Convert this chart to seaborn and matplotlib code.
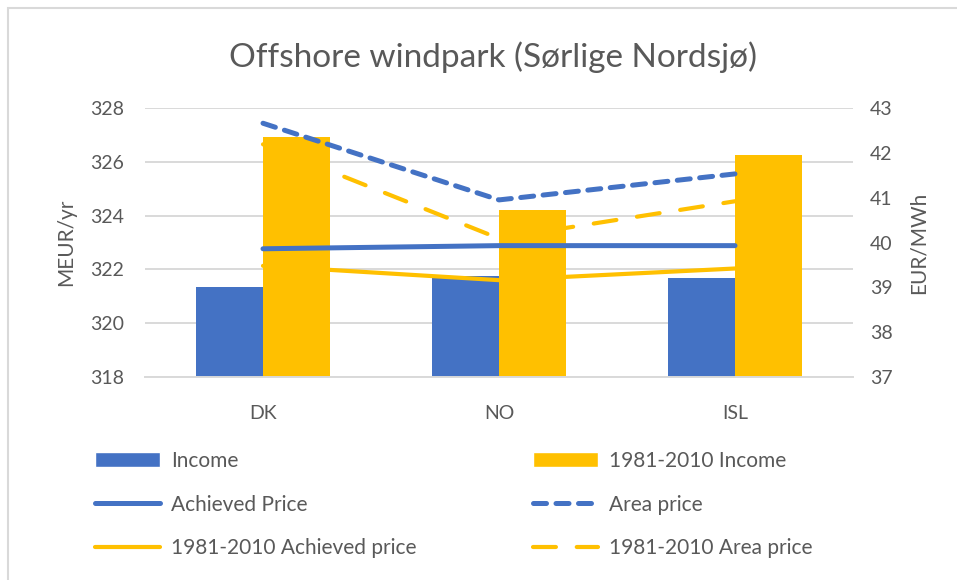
import numpy as np
import pandas as pd
import matplotlib
matplotlib.use("Agg")
import matplotlib.pyplot as plt
import seaborn as sns
from matplotlib.patches import Rectangle
from matplotlib.lines import Line2D

categories = ["DK", "NO", "ISL"]
income = [321.35, 321.77, 321.69]
income_1981_2010 = [326.93, 324.21, 326.27]
achieved_price = [39.86, 39.93, 39.93]
area_price = [42.66, 40.95, 41.53]
achieved_price_1981_2010 = [39.48, 39.16, 39.42]
area_price_1981_2010 = [42.19, 40.09, 40.92]

left_ticks = [318, 320, 322, 324, 326, 328]
right_ticks = [37, 38, 39, 40, 41, 42, 43]

title = "Offshore windpark (Sørlige Nordsjø)"
left_label = "MEUR/yr"
right_label = "EUR/MWh"

BLUE = "#4472C4"
ORANGE = "#FFC000"
TEXT = "#595959"
GRID = "#D9D9D9"

sns.set_theme(style="white")
plt.rcParams["font.family"] = ["Lato", "DejaVu Sans"]

fig = plt.figure(figsize=(9.57, 5.8), dpi=100)
ax = fig.add_axes([145 / 957, 1 - 377 / 580, (853 - 145) / 957, (377 - 108) / 580])

bar_series = ["Income", "1981-2010 Income"]
bars = pd.DataFrame({
    "cat": categories * 2,
    "value": income + income_1981_2010,
    "series": [bar_series[0]] * 3 + [bar_series[1]] * 3,
})
sns.barplot(data=bars, x="cat", y="value", hue="series", order=categories,
            hue_order=bar_series, palette=[BLUE, ORANGE], width=0.57, gap=0,
            saturation=1, errorbar=None, legend=False, ax=ax, zorder=2,
            linewidth=0, edgecolor="none")
ax.set_ylim(318, 328)
ax.set_yticks(left_ticks)
ax.set_xlim(-0.5, len(categories) - 0.5)
ax.yaxis.grid(True, color=GRID, linewidth=1.4, zorder=0)
ax.set_axisbelow(True)
for s in ["top", "left", "right"]:
    ax.spines[s].set_visible(False)
ax.spines["bottom"].set_color(GRID)
ax.spines["bottom"].set_linewidth(1.4)
ax.tick_params(axis="y", length=0, pad=15, labelsize=14, labelcolor=TEXT)
ax.tick_params(axis="x", length=0, pad=20, labelsize=14, labelcolor=TEXT)
ax.set_xlabel("")
ax.set_ylabel(left_label, fontsize=15, color=TEXT, labelpad=10)

line_series = ["Achieved Price", "Area price", "1981-2010 Achieved price", "1981-2010 Area price"]
line_values = [achieved_price, area_price, achieved_price_1981_2010, area_price_1981_2010]
lines = pd.DataFrame({
    "cat": categories * 4,
    "value": sum(line_values, []),
    "series": sum([[s] * 3 for s in line_series], []),
})
palette = {line_series[0]: BLUE, line_series[1]: BLUE, line_series[2]: ORANGE, line_series[3]: ORANGE}
dashes = {line_series[0]: "", line_series[1]: (2.6, 1.9), line_series[2]: "", line_series[3]: (5.5, 5.0)}
sizes = {line_series[0]: 3.6, line_series[1]: 3.6, line_series[2]: 3.0, line_series[3]: 3.0}

ax2 = ax.twinx()
sns.lineplot(data=lines, x="cat", y="value", hue="series", style="series", size="series",
             hue_order=line_series, style_order=line_series, size_order=line_series,
             palette=palette, dashes=dashes, sizes=sizes, legend=False, ax=ax2,
             dash_capstyle="round", solid_capstyle="round")
ax2.set_ylim(37, 43)
ax2.set_yticks(right_ticks)
ax2.set_xlim(-0.5, len(categories) - 0.5)
for s in ["top", "left", "right", "bottom"]:
    ax2.spines[s].set_visible(False)
ax2.tick_params(axis="y", length=0, pad=12, labelsize=14, labelcolor=TEXT)
ax2.set_xlabel("")
ax2.set_ylabel(right_label, fontsize=15, color=TEXT, labelpad=12)

fig.text(493 / 957, 1 - 57 / 580, title, ha="center", va="center", fontsize=24, color=TEXT)

# legend
h_income = Rectangle((0, 0), 1, 1, facecolor=BLUE)
h_income2 = Rectangle((0, 0), 1, 1, facecolor=ORANGE)
h_lines = [Line2D([], [], color=palette[s], linewidth=sizes[s],
                  linestyle=((0, dashes[s]) if dashes[s] else "-"),
                  dash_capstyle="round", solid_capstyle="round") for s in line_series]
handles = [h_income, h_lines[0], h_lines[2], h_income2, h_lines[1], h_lines[3]]
labels = [bar_series[0], line_series[0], line_series[2], bar_series[1], line_series[1], line_series[3]]
leg = fig.legend(handles, labels, ncol=2, loc="upper left", bbox_to_anchor=(95 / 957, 1 - 451 / 580),
                 frameon=False, fontsize=15, handlelength=3.1, handletextpad=0.55,
                 columnspacing=5.6, labelspacing=1.13, borderpad=0, borderaxespad=0)
for t in leg.get_texts():
    t.set_color(TEXT)

# chart-area border
fig.add_artist(Rectangle((8 / 957, -0.1), 1.2, 1 - 8 / 580 + 0.1, transform=fig.transFigure,
                         fill=False, edgecolor=GRID, linewidth=1.5))

fig.savefig("out.png", dpi=100)
